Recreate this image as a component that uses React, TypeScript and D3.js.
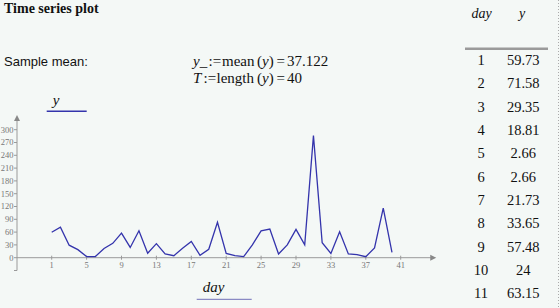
import React from "react";
import * as d3 from "d3";

const days: number[] = [1,2,3,4,5,6,7,8,9,10,11,12,13,14,15,16,17,18,19,20,21,22,23,24,25,26,27,28,29,30,31,32,33,34,35,36,37,38,39,40];
const yValues: number[] = [59.73,71.58,29.35,18.81,2.66,2.66,21.73,33.65,57.48,24,63.15,10.3,33,9,4.7,22,38,5.6,19.7,83,10,4.7,2.4,30,63,67,8.7,30,66.5,30,286,35,10,61,8.7,7,2.3,23,116,12.7];
const yTicks: number[] = [0,30,60,90,120,150,180,210,240,270,300];
const xTicks: number[] = [1,5,9,13,17,21,25,29,33,37,41];
const tableRows = 11;
const meanText = "37.122";
const lengthText = "40";

const W = 560, H = 308;
const serif = "'Liberation Serif', 'Times New Roman', serif";
const sans = "'Liberation Sans', Arial, sans-serif";

export default function App() {
  const x = d3.scaleLinear().domain([1, 41]).range([51.7, 400.7]);
  const y = d3.scaleLinear().domain([0, 300]).range([257.7, 129.7]);
  const line = d3.line<number>().x((_, i) => x(days[i])).y((d) => y(d));
  const axisColor = "#9a9a9a";
  const lineColor = "#3434ac";
  const y0 = y(0);
  const axisLeft = 17;
  const axisRight = x(44.5);
  const axisTop = y(323);
  const axisBottom = y(-30);

  return (
    <svg width={W} height={H} style={{ position: "absolute", left: 0, top: 0 }}>
      <rect x={0} y={0} width={W} height={H} fill="#f4f8f6" />
      <text x={4} y={13} fontFamily={serif} fontWeight="bold" fontSize={14} fill="#111">Time series plot</text>
      <text x={4} y={66} fontFamily={sans} fontSize={13} fill="#111">Sample mean:</text>
      <text y={65.5} fontFamily={serif} fontSize={15} fill="#111">
        <tspan x={193} fontStyle="italic">y_</tspan>
        <tspan x={208.5}>:=</tspan>
        <tspan x={222}>mean</tspan>
        <tspan x={257}>(</tspan>
        <tspan fontStyle="italic">y</tspan>
        <tspan>)</tspan>
        <tspan x={276.5}>=</tspan>
        <tspan x={287}>{meanText}</tspan>
      </text>
      <text y={82.5} fontFamily={serif} fontSize={15} fill="#111">
        <tspan x={193} fontStyle="italic">T</tspan>
        <tspan x={203.5}>:=</tspan>
        <tspan x={216.5}>length</tspan>
        <tspan x={257}>(</tspan>
        <tspan fontStyle="italic">y</tspan>
        <tspan>)</tspan>
        <tspan x={276.5}>=</tspan>
        <tspan x={287}>{lengthText}</tspan>
      </text>

      {/* legend */}
      <text x={56} y={105} textAnchor="middle" fontFamily={serif} fontStyle="italic" fontSize={15} fill="#111">y</text>
      <line x1={46.7} x2={86.7} y1={111.3} y2={111.3} stroke={lineColor} strokeWidth={1.5} />

      {/* axes */}
      <line x1={axisLeft} x2={axisRight} y1={y0} y2={y0} stroke={axisColor} strokeWidth={1} />
      <path d={`M${axisRight + 5},${y0} L${axisRight - 1},${y0 - 3} L${axisRight - 1},${y0 + 3} Z`} fill="#888" />
      <line x1={axisLeft} x2={axisLeft} y1={axisBottom} y2={axisTop} stroke={axisColor} strokeWidth={1} />
      <path d={`M${axisLeft},${axisTop - 5} L${axisLeft - 3},${axisTop + 1} L${axisLeft + 3},${axisTop + 1} Z`} fill="#888" />
      <line x1={axisLeft - 3} x2={axisLeft} y1={axisBottom} y2={axisBottom} stroke={axisColor} />
      {yTicks.map((t) => (
        <g key={"y" + t}>
          <line x1={axisLeft - 3} x2={axisLeft} y1={y(t)} y2={y(t)} stroke={axisColor} />
          <text x={13.5} y={y(t) + 2.8} textAnchor="end" fontFamily={serif} fontSize={8.5} fill="#777">{t}</text>
        </g>
      ))}
      {xTicks.map((t) => (
        <g key={"x" + t}>
          <line x1={x(t)} x2={x(t)} y1={y0 - 2} y2={y0 + 2} stroke={axisColor} />
          <text x={x(t)} y={267.5} textAnchor="middle" fontFamily={serif} fontSize={8.5} fill="#777">{t}</text>
        </g>
      ))}

      <path d={line(yValues) || ""} fill="none" stroke={lineColor} strokeWidth={1.3} strokeLinejoin="miter" />

      {/* x label */}
      <text x={213.5} y={292} textAnchor="middle" fontFamily={serif} fontStyle="italic" fontSize={15} fill="#111">day</text>
      <line x1={196.7} x2={251.7} y1={299.3} y2={299.3} stroke="#8a8ac4" strokeWidth={1.2} />

      {/* table */}
      <text x={481.5} y={18} textAnchor="middle" fontFamily={serif} fontStyle="italic" fontSize={14} fill="#111">day</text>
      <text x={522} y={18} textAnchor="middle" fontFamily={serif} fontStyle="italic" fontSize={14} fill="#111">y</text>
      <line x1={465} x2={548} y1={48.8} y2={48.8} stroke="#9a9a9a" strokeWidth={2.4} />
      {days.slice(0, tableRows).map((d, i) => (
        <g key={"r" + d}>
          <text x={481} y={65 + i * 23.33} textAnchor="middle" fontFamily={serif} fontSize={14.5} fill="#111">{d}</text>
          <text x={523.3} y={65 + i * 23.33} textAnchor="middle" fontFamily={serif} fontSize={14.5} fill="#111">{yValues[i]}</text>
        </g>
      ))}
      <line x1={558.5} x2={558.5} y1={0} y2={H} stroke="#aaa" strokeWidth={1} strokeDasharray="1,2" />
    </svg>
  );
}
